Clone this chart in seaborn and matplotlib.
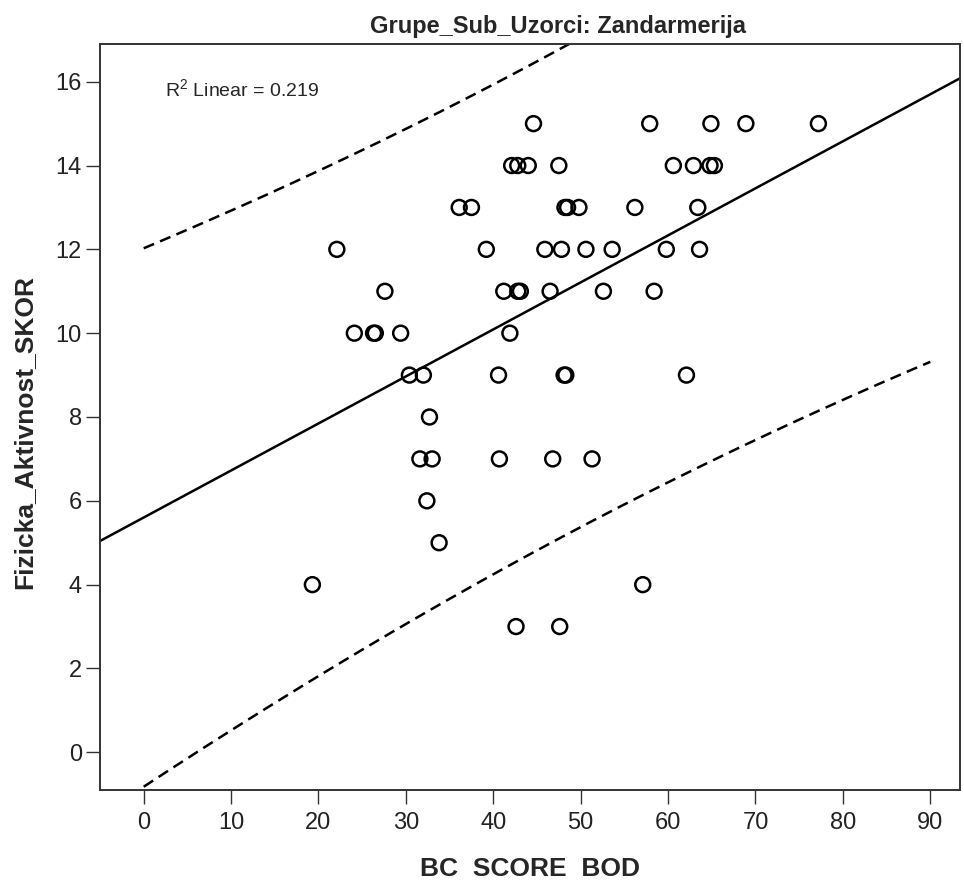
import numpy as np
import pandas as pd
import matplotlib
matplotlib.use("Agg")
import matplotlib.pyplot as plt
import seaborn as sns

# ---- data ----
y15 = [44.6, 57.9, 64.9, 68.9, 77.2]
y14 = [42.1, 42.8, 44.0, 47.5, 60.6, 62.9, 64.8, 65.3]
y13 = [36.1, 37.5, 48.2, 48.5, 49.8, 56.2, 63.4]
y12 = [22.1, 39.2, 45.9, 47.8, 50.6, 53.6, 59.8, 63.6]
y11 = [27.6, 41.2, 42.8, 43.1, 46.5, 52.6, 58.4]
y10 = [24.1, 26.3, 26.5, 29.4, 41.9]
y9 = [30.4, 32.0, 40.6, 48.1, 48.3, 62.1]
y8 = [32.7]
y7 = [31.6, 33.0, 40.7, 46.8, 51.3]
y6 = [32.4]
y5 = [33.8]
y4 = [19.3, 57.1]
y3 = [42.6, 47.6]

rows = {15: y15, 14: y14, 13: y13, 12: y12, 11: y11, 10: y10, 9: y9,
        8: y8, 7: y7, 6: y6, 5: y5, 4: y4, 3: y3}
bc = [x for k, v in rows.items() for x in v]
fa = [k for k, v in rows.items() for _ in v]
df = pd.DataFrame({"BC_SCORE_BOD": bc, "Fizicka_Aktivnost_SKOR": fa})

title = "Grupe_Sub_Uzorci: Zandarmerija"
xlabel = "BC  SCORE  BOD"
ylabel = "Fizicka_Aktivnost_SKOR"
r2_label = "R$^2$ Linear = 0.219"
xticks = [0, 10, 20, 30, 40, 50, 60, 70, 80, 90]
yticks = [0, 2, 4, 6, 8, 10, 12, 14, 16]

sns.set_style("white")
plt.rcParams["font.family"] = ["Liberation Sans", "DejaVu Sans"]
plt.rcParams["mathtext.fontset"] = "custom"
plt.rcParams["mathtext.rm"] = "Liberation Sans"

fig = plt.figure(figsize=(9.64, 8.81), dpi=100)
ax = fig.add_axes([100 / 964, 1 - 790 / 881, 860 / 964, 746 / 881])
ax.set_xlim(-5, 93.4)
ax.set_ylim(-0.9, 16.9)

# fit line through the library
sns.regplot(data=df, x="BC_SCORE_BOD", y="Fizicka_Aktivnost_SKOR", ax=ax,
            scatter=False, ci=None, truncate=False,
            line_kws=dict(color="black", lw=1.8))

# 95% prediction interval for individuals
x = np.asarray(bc); y = np.asarray(fa, dtype=float)
n = len(x)
b, a = np.polyfit(x, y, 1)
resid = y - (a + b * x)
s = np.sqrt(np.sum(resid ** 2) / (n - 2))
sxx = np.sum((x - x.mean()) ** 2)
t = 2.003
xg = np.linspace(0, 90, 300)
half = t * s * np.sqrt(1 + 1 / n + (xg - x.mean()) ** 2 / sxx)
pi = pd.DataFrame({"x": xg, "lo": a + b * xg - half, "hi": a + b * xg + half})
for col in ["hi", "lo"]:
    sns.lineplot(data=pi, x="x", y=col, ax=ax, color="black", lw=1.8,
                 linestyle=(0, (4.5, 2.6)))

sns.scatterplot(data=df, x="BC_SCORE_BOD", y="Fizicka_Aktivnost_SKOR", ax=ax,
                s=115, facecolor="none", edgecolor="black", linewidth=1.8,
                zorder=5)

ax.set_xticks(xticks)
ax.set_yticks(yticks)
ax.tick_params(axis="both", direction="out", length=10, width=1,
               color="#333333", labelcolor="#222222",
               bottom=True, left=True)
ax.tick_params(axis="x", labelsize=17, pad=6)
ax.tick_params(axis="y", labelsize=17, pad=3)
for sp in ax.spines.values():
    sp.set_color("#333333")
    sp.set_linewidth(1.4)

ax.set_xlabel(xlabel, fontsize=19, fontweight="bold")
ax.xaxis.set_label_coords(0.5, -(869 - 790) / 746)
ax.xaxis.label.set_va("center")
ax.set_ylabel(ylabel, fontsize=19, fontweight="bold")
ax.yaxis.set_label_coords(-0.074, 0.48)

ax.text(0.0756, 0.938, r2_label, transform=ax.transAxes, fontsize=14,
        va="center", ha="left")
fig.text(558 / 964, 1 - 26 / 881, title, fontsize=17, fontweight="bold",
         ha="center", va="center")

fig.savefig("out.png", dpi=100)
